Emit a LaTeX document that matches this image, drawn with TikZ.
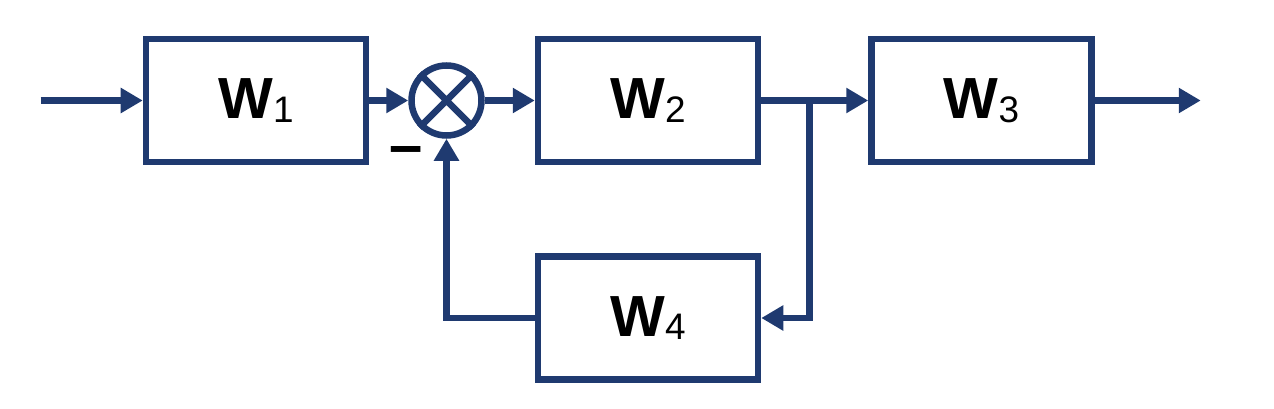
\documentclass[tikz,border=0pt]{standalone}
\usepackage{fontspec}
\setmainfont{Liberation Sans}
\usetikzlibrary{positioning, arrows.meta}
\definecolor{navy}{RGB}{31,58,112}
\newcommand{\idx}[1]{\raisebox{-2pt}{\mdseries\fontsize{21}{22}\selectfont #1}}

\begin{document}
\begin{tikzpicture}[line width = 3.7pt, color = navy,
    blk/.style = {draw = navy, rectangle, minimum width = 4.4cm, minimum height = 2.46cm,
    text = black, font = \fontsize{33}{36}\selectfont\bfseries, inner sep = 0pt},
    junction/.style = {draw = navy, circle, minimum size = 1.4cm, inner sep = 0pt},
    link/.style = {-{Triangle[length = 0.44cm, width = 0.48cm]}}]
 \useasboundingbox (0,0) rectangle (25.48,8.16);
 \node[blk] (w1) at (5.12,6.15) {W\idx{1}};
 \node[junction, right = 0.78cm of w1] (s) {};
 \node[blk, right = 1cm of s] (w2) {W\idx{2}};
 \node[blk, right = 2.14cm of w2] (w3) {W\idx{3}};
 \node[blk, below = 1.76cm of w2] (w4) {W\idx{4}};
 \node[text = black, font = \fontsize{34}{36}\selectfont\bfseries, inner sep = 0pt]
   (minus) at ([xshift = -0.8cm, yshift = -1.12cm]s.center) {–};

 \coordinate[left = 2.04cm of w1] (in);
 \coordinate[right = 2.12cm of w3] (out);
 \coordinate[right = 0.96cm of w2] (split);

 % cross of the summing point
 \draw (s.north west) -- (s.south east) (s.north east) -- (s.south west);

 \draw[link] (in) -- (w1);
 \draw[link] (w1) -- (s);
 \draw[link] (s) -- (w2);
 \draw[link] (w2) -- (w3);
 \draw[link] (w3) -- (out);
 % feedback loop
 \draw[link] (split) |- (w4);
 \draw[link] (w4) -| (s);
\end{tikzpicture}
\end{document}
